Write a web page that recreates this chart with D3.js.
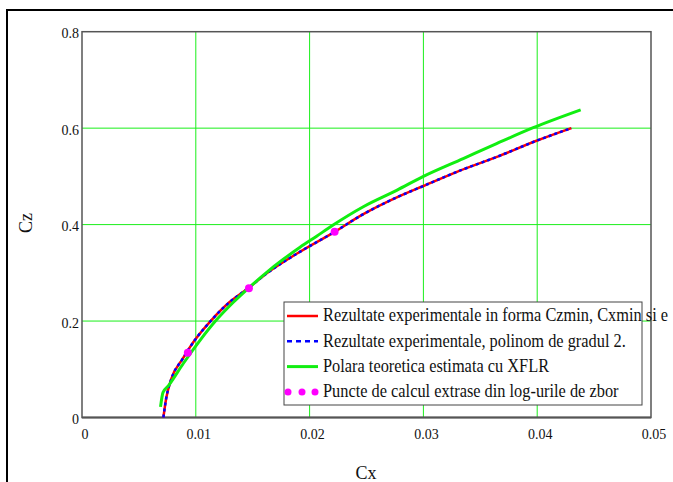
<!DOCTYPE html>
<html>
<head>
<meta charset="utf-8">
<script src="https://cdn.jsdelivr.net/npm/d3@7"></script>
<style>
body { margin: 0; background: #fff; }
text { font-family: "Liberation Serif", "DejaVu Serif", serif; fill: #111; }
</style>
</head>
<body>
<div id="chart"></div>
<script>

// tick values
var xTicks = [0, 0.01, 0.02, 0.03, 0.04, 0.05];
var yTicks = [0, 0.2, 0.4, 0.6, 0.8];

// experimental results (Czmin, Cxmin ...)
var expCx = [0.00715, 0.00740, 0.00785, 0.00880, 0.00990, 0.01130, 0.01300, 0.01460, 0.01630, 0.01890, 0.02220, 0.02460, 0.02800, 0.03000, 0.03300, 0.03640, 0.04000, 0.04300];
var expCz = [0, 0.04, 0.08, 0.12, 0.16, 0.20, 0.24, 0.268, 0.30, 0.34, 0.385, 0.42, 0.46, 0.48, 0.51, 0.54, 0.5744, 0.60];

// 2nd degree polynomial fit
var polyCx = [0.00715, 0.00740, 0.00785, 0.00880, 0.00990, 0.01130, 0.01300, 0.01460, 0.01630, 0.01890, 0.02220, 0.02460, 0.02800, 0.03000, 0.03300, 0.03640, 0.04000, 0.04300];
var polyCz = [0, 0.04, 0.08, 0.12, 0.16, 0.20, 0.24, 0.268, 0.30, 0.34, 0.385, 0.42, 0.46, 0.48, 0.51, 0.54, 0.5744, 0.60];

// XFLR theoretical polar
var xflrCx = [0.00690, 0.00712, 0.00760, 0.00890, 0.01037, 0.01184, 0.01330, 0.01476, 0.01623, 0.01769, 0.01916, 0.02062, 0.02200, 0.02472, 0.02765, 0.03000, 0.03350, 0.03643, 0.03965, 0.04382];
var xflrCz = [0.022, 0.052, 0.066, 0.112, 0.160, 0.203, 0.239, 0.271, 0.301, 0.328, 0.353, 0.376, 0.398, 0.437, 0.471, 0.500, 0.537, 0.568, 0.601, 0.638];

// flight log points
var logCx = [0.0093, 0.01467, 0.0222];
var logCz = [0.1345, 0.268, 0.385];

var legendLabels = [
    "Rezultate experimentale in forma Czmin, Cxmin si e",
    "Rezultate experimentale, polinom de gradul 2.",
    "Polara teoretica estimata cu XFLR",
    "Puncte de calcul extrase din log-urile de zbor"
];

var W = 673, H = 482;
var margin = { left: 82, top: 31.7, right: 22, bottom: 64.5 };
var width = W - margin.left - margin.right;
var height = H - margin.top - margin.bottom;
var serif = "'Liberation Serif', 'DejaVu Serif', serif";

var SVG = d3.select("#chart").append("svg")
    .attr("width", W)
    .attr("height", H);

SVG.append("rect")
    .attr("width", W).attr("height", H)
    .attr("fill", "#fff");

// outer frame
SVG.append("rect")
    .attr("x", 7).attr("y", 10)
    .attr("width", 720).attr("height", 520)
    .attr("fill", "none")
    .attr("stroke", "#000")
    .attr("stroke-width", 2);

var svg = SVG.append("g")
    .attr("transform", "translate(" + margin.left + "," + margin.top + ")");

var x = d3.scaleLinear().domain([0, 0.05]).range([0, width]);
var y = d3.scaleLinear().domain([0, 0.8]).range([height, 0]);

// grid
svg.selectAll(".vgrid")
    .data(xTicks.slice(1, -1)).enter()
    .append("line")
    .attr("x1", function(d) { return x(d); })
    .attr("x2", function(d) { return x(d); })
    .attr("y1", 0).attr("y2", height)
    .attr("stroke", "#1aef1a")
    .attr("stroke-width", 1);

svg.selectAll(".hgrid")
    .data(yTicks.slice(1, -1)).enter()
    .append("line")
    .attr("y1", function(d) { return y(d); })
    .attr("y2", function(d) { return y(d); })
    .attr("x1", 0).attr("x2", width)
    .attr("stroke", "#1aef1a")
    .attr("stroke-width", 1);

// plot border
svg.append("rect")
    .attr("width", width).attr("height", height)
    .attr("fill", "none")
    .attr("stroke", "#555")
    .attr("stroke-width", 1.5);

svg.append("line")
    .attr("x1", 0).attr("x2", width)
    .attr("y1", height).attr("y2", height)
    .attr("stroke", "#555")
    .attr("stroke-width", 2);

// tick labels
svg.selectAll(".xlab")
    .data(xTicks).enter()
    .append("text")
    .attr("x", function(d) { return x(d) + 3; })
    .attr("y", height + 22)
    .attr("font-family", serif)
    .style("text-anchor", "middle")
    .style("font-size", "14px")
    .text(function(d) { return d; });

svg.selectAll(".ylab")
    .data(yTicks).enter()
    .append("text")
    .attr("x", -3)
    .attr("y", function(d) { return y(d) + 6.5; })
    .attr("font-family", serif)
    .style("text-anchor", "end")
    .style("font-size", "14px")
    .text(function(d) { return d; });

// axis titles
SVG.append("text")
    .attr("transform", "translate(32,223) rotate(-90)")
    .attr("font-family", serif)
    .style("text-anchor", "middle")
    .style("font-size", "18px")
    .text("Cz");

SVG.append("text")
    .attr("x", 366).attr("y", 479)
    .attr("font-family", serif)
    .style("text-anchor", "middle")
    .style("font-size", "18px")
    .text("Cx");

function pairs(cx, cz) {
    return cx.map(function(d, i) { return [d, cz[i]]; });
}

var line = d3.line()
    .x(function(d) { return x(d[0]); })
    .y(function(d) { return y(d[1]); })
    .curve(d3.curveMonotoneX);

svg.append("path")
    .attr("d", line(pairs(expCx, expCz)))
    .attr("fill", "none")
    .attr("stroke", "#ff0000")
    .attr("stroke-width", 2.5);

svg.append("path")
    .attr("d", line(pairs(polyCx, polyCz)))
    .attr("fill", "none")
    .attr("stroke", "#0000ff")
    .attr("stroke-width", 2.5)
    .attr("stroke-dasharray", "3,3");

svg.append("path")
    .attr("d", line(pairs(xflrCx, xflrCz)))
    .attr("fill", "none")
    .attr("stroke", "#11ee11")
    .attr("stroke-width", 3);

svg.selectAll(".logpt")
    .data(pairs(logCx, logCz)).enter()
    .append("circle")
    .attr("cx", function(d) { return x(d[0]); })
    .attr("cy", function(d) { return y(d[1]); })
    .attr("r", 4)
    .attr("fill", "#ff00ff");

// legend
var lg = SVG.append("g");

lg.append("rect")
    .attr("x", 284).attr("y", 302)
    .attr("width", 358).attr("height", 103)
    .attr("fill", "#fff")
    .attr("stroke", "#444")
    .attr("stroke-width", 1);

var rowY = function(i) { return 316 + i * 25.3; };

lg.append("line")
    .attr("x1", 287).attr("x2", 318)
    .attr("y1", rowY(0)).attr("y2", rowY(0))
    .attr("stroke", "#ff0000").attr("stroke-width", 2.5);

lg.append("line")
    .attr("x1", 287).attr("x2", 318)
    .attr("y1", rowY(1)).attr("y2", rowY(1))
    .attr("stroke", "#0000ff").attr("stroke-width", 2.5)
    .attr("stroke-dasharray", "5,4");

lg.append("line")
    .attr("x1", 287).attr("x2", 318)
    .attr("y1", rowY(2)).attr("y2", rowY(2))
    .attr("stroke", "#11ee11").attr("stroke-width", 3);

lg.selectAll(".ldot")
    .data([288, 302, 315]).enter()
    .append("circle")
    .attr("cx", function(d) { return d; })
    .attr("cy", rowY(3))
    .attr("r", 3.5)
    .attr("fill", "#ff00ff");

var texts = lg.append("g");
texts.selectAll("text")
    .data(legendLabels).enter()
    .append("text")
    .attr("x", 0)
    .attr("y", function(d, i) { return rowY(i) + 5.5; })
    .attr("font-family", serif)
    .style("font-size", "18px")
    .text(function(d) { return d; });

// squeeze legend text horizontally to match the original
var w2 = texts.selectAll("text").nodes()[1].getComputedTextLength();
var sx = 303 / w2;
texts.attr("transform", "translate(323,0) scale(" + sx + ",1)");

</script>
</body>
</html>
